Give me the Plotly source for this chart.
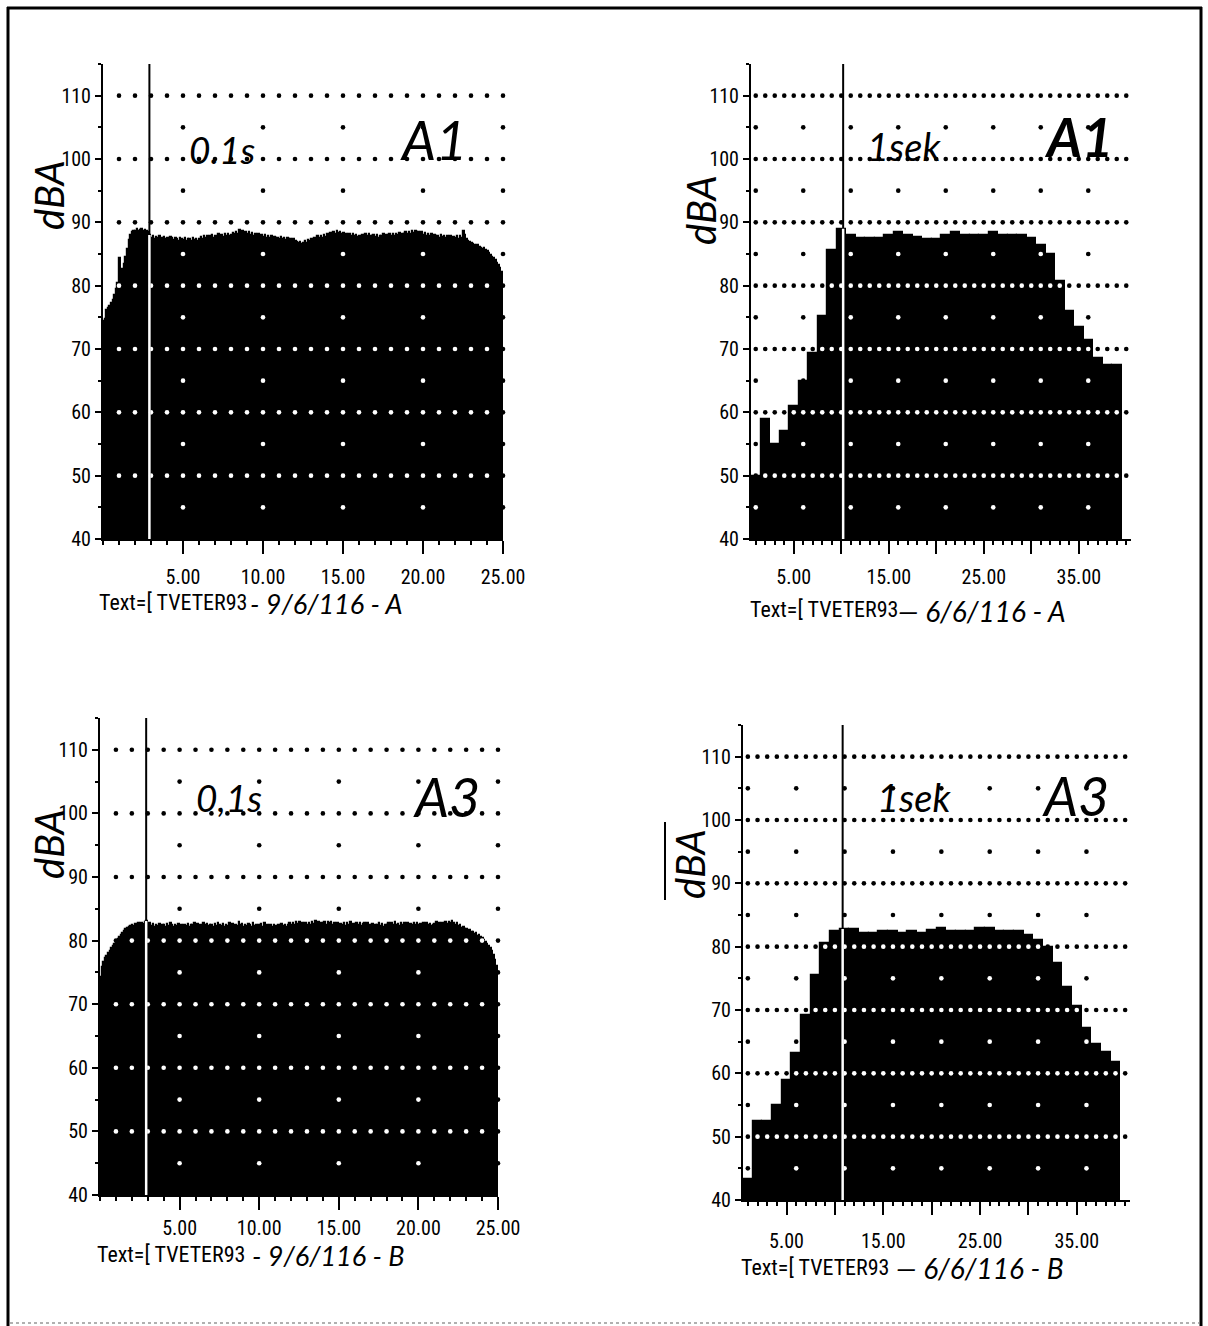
import plotly.graph_objects as go

W, H = 1208, 1326

# ---------------- data (dBA levels read from the printouts) ----------------
# A1, 0.1 s samples, 0.0 .. 25.0 s
a1_fast = [
    74.5, 74.8, 76.2, 76.5, 76.8, 77.2, 77.8, 78.6, 79.5, 80.4,
    84.3, 82.0, 82.6, 83.5, 84.6, 85.8, 87.2, 88.0, 88.5, 88.6,
    88.7, 88.9, 88.6, 88.8, 88.9, 88.7, 88.8, 88.6, 88.5, 88.0,
    87.6, 87.8, 87.4, 87.7, 87.5, 87.8, 87.3, 87.6, 87.7, 87.4,
    87.6, 87.3, 87.7, 87.5, 87.2, 87.6, 87.4, 87.1, 87.5, 87.3,
    87.2, 87.6, 87.0, 87.4, 87.3, 87.1, 87.5, 87.2, 87.4, 87.0,
    87.3, 87.7, 87.4, 87.8, 87.5, 87.9, 87.6, 87.8, 88.0, 87.6,
    87.9, 87.7, 88.1, 87.8, 88.0, 87.7, 88.2, 87.9, 88.1, 87.8,
    88.0, 88.3, 88.1, 88.5, 88.2, 88.8, 88.4, 88.6, 88.3, 88.5,
    88.2, 88.4, 88.0, 88.3, 87.9, 88.2, 87.8, 88.1, 87.9, 88.0,
    87.7, 88.0, 87.6, 87.9, 87.5, 87.8, 87.4, 87.7, 87.5, 87.6,
    87.4, 87.7, 87.3, 87.6, 87.2, 87.5, 87.3, 87.4, 87.1, 87.3,
    87.0, 86.9, 86.7, 86.9, 86.6, 86.8, 87.0, 86.8, 87.2, 87.0,
    87.4, 87.2, 87.6, 87.3, 87.8, 87.5, 87.9, 87.6, 88.0, 87.7,
    88.1, 87.8, 88.3, 88.0, 88.5, 88.2, 88.6, 88.3, 88.4, 88.1,
    88.3, 88.0, 88.2, 87.9, 88.1, 87.8, 88.2, 87.9, 88.0, 87.7,
    87.9, 87.6, 88.0, 87.7, 88.1, 87.8, 88.2, 87.9, 87.8, 88.0,
    87.7, 88.0, 87.6, 87.9, 87.8, 88.1, 87.7, 88.0, 87.9, 88.2,
    87.9, 88.1, 87.8, 88.2, 88.0, 88.3, 87.9, 88.1, 88.2, 88.4,
    88.1, 88.5, 88.2, 88.6, 88.3, 88.7, 88.4, 88.5, 88.2, 88.4,
    88.0, 88.3, 87.9, 88.2, 87.8, 88.1, 87.7, 88.0, 87.8, 87.9,
    87.6, 88.0, 87.7, 87.9, 87.5, 87.8, 87.6, 87.9, 87.4, 87.7,
    87.5, 87.8, 87.4, 87.9, 87.6, 88.7, 88.0, 87.3, 87.1, 86.9,
    86.8, 86.6, 86.5, 86.3, 86.4, 86.1, 86.0, 85.8, 85.9, 85.6,
    85.4, 85.2, 84.9, 84.6, 84.3, 84.0, 83.6, 83.2, 82.8, 82.2,
]

# A1, 1 s samples, seconds 1 .. 39
a1_slow = [
    50.0, 59.0, 55.0, 57.0, 61.0, 65.0, 69.3, 75.2, 85.6, 89.0,
    88.0, 87.5, 87.5, 87.5, 88.0, 88.5, 88.0, 87.7, 87.3, 87.3,
    88.0, 88.5, 88.0, 88.0, 88.0, 88.5, 88.0, 88.0, 88.0, 87.5,
    86.5, 85.0, 80.8, 76.0, 73.4, 71.4, 68.6, 67.5, 67.5,
]

# A3, 0.1 s samples, 0.0 .. 25.0 s
a3_fast = [
    74.3, 75.8, 76.6, 77.2, 77.6, 78.0, 78.4, 78.8, 79.1, 79.4,
    79.8, 80.2, 80.5, 80.9, 81.2, 81.5, 81.8, 82.0, 82.2, 82.3,
    82.4, 82.3, 82.6, 82.4, 82.7, 82.5, 82.8, 82.6, 82.9, 83.1,
    82.4, 82.7, 82.3, 82.6, 82.2, 82.5, 82.3, 82.6, 82.1, 82.4,
    82.5, 82.2, 82.6, 82.3, 82.7, 82.4, 82.2, 82.5, 82.3, 82.6,
    82.2, 82.5, 82.1, 82.4, 82.3, 82.6, 82.2, 82.5, 82.4, 82.7,
    82.3, 82.6, 82.2, 82.5, 82.3, 82.8, 82.4, 82.6, 82.3, 82.5,
    82.4, 82.2, 82.6, 82.3, 82.7, 82.4, 82.3, 82.6, 82.2, 82.5,
    82.3, 82.7, 82.4, 82.6, 82.2, 82.5, 82.3, 82.9, 82.4, 82.6,
    82.2, 82.5, 82.3, 82.6, 82.4, 82.2, 82.7, 82.3, 82.5, 82.1,
    82.4, 82.6, 82.2, 82.8, 82.3, 82.5, 82.1, 82.4, 82.2, 82.5,
    82.3, 82.1, 82.4, 82.2, 82.6, 82.3, 82.5, 82.2, 82.4, 82.7,
    82.4, 82.8, 82.5, 82.9, 82.6, 83.0, 82.5, 82.8, 82.4, 82.7,
    82.5, 82.8, 82.4, 82.9, 82.6, 83.1, 82.7, 82.9, 82.5, 82.8,
    82.6, 82.9, 82.5, 83.0, 82.7, 82.9, 82.4, 82.8, 82.5, 82.7,
    82.3, 82.6, 82.4, 82.8, 82.3, 82.7, 82.5, 82.9, 82.4, 82.6,
    82.5, 82.8, 82.4, 82.7, 82.3, 82.6, 82.8, 82.4, 82.7, 82.5,
    82.3, 82.6, 82.2, 82.5, 82.4, 82.7, 82.3, 82.6, 82.2, 82.5,
    82.4, 82.7, 82.3, 82.8, 82.5, 82.9, 82.4, 82.6, 82.3, 82.7,
    82.5, 82.8, 82.4, 82.7, 82.3, 82.6, 82.4, 82.8, 82.5, 82.7,
    82.4, 82.6, 82.3, 82.7, 82.5, 82.8, 82.4, 82.6, 82.3, 82.5,
    82.6, 82.9, 82.5, 82.8, 82.4, 82.7, 82.5, 82.9, 82.6, 83.0,
    82.7, 83.1, 82.8, 82.5, 82.7, 82.3, 82.4, 82.0, 82.2, 81.8,
    81.9, 81.5, 81.7, 81.3, 81.4, 81.0, 81.2, 80.8, 80.9, 80.5,
    80.4, 80.1, 79.8, 79.5, 79.2, 78.8, 78.4, 77.8, 77.0, 76.0,
]

# A3, 1 s samples, seconds 1 .. 39
a3_slow = [
    43.3, 52.5, 52.5, 55.0, 59.0, 63.2, 69.2, 75.5, 80.6, 82.4,
    82.8, 82.8, 82.2, 82.2, 82.5, 82.4, 82.1, 82.4, 82.1, 82.6,
    82.9, 82.4, 82.4, 82.5, 82.9, 82.9, 82.5, 82.4, 82.4, 81.8,
    81.0, 80.0, 77.5, 73.7, 70.6, 67.2, 64.7, 63.3, 61.8,
]

y_ticks = [40, 50, 60, 70, 80, 90, 100, 110]
y_labels = ["40", "50", "60", "70", "80", "90", "100", "110"]
fast_ticks = [5, 10, 15, 20, 25]
fast_labels = ["5.00", "10.00", "15.00", "20.00", "25.00"]
slow_ticks = [5, 10, 15, 20, 25, 30, 35]
slow_labels = ["5.00", "", "15.00", "", "25.00", "", "35.00"]

cursor_a1_fast = 2.9
cursor_a1_slow = 10.2
cursor_a3_fast = 2.9
cursor_a3_slow = 10.8

# ---------------- layout helpers ----------------
PRINT = "Roboto Condensed, Liberation Sans Narrow, DejaVu Sans Condensed, Roboto, sans-serif"
HAND = "Lato, Noto Sans, Open Sans, sans-serif"


def fx(px):
    return px / W


def fy(py):
    return 1 - py / H


panels = [
    dict(vals=a1_fast, x0=0.05, dx=0.1, xr=[0, 25], xpx=(103, 503), ypx=(539, 64),
         cursor=cursor_a1_fast, tv=fast_ticks, tt=fast_labels, standoff=6,
         major_cols=list(range(1, 26)), minor_cols=[5, 10, 15, 20, 25]),
    dict(vals=a1_slow, x0=1, dx=1, xr=[0.5, 40.5], xpx=(751, 1131), ypx=(539, 64),
         cursor=cursor_a1_slow, tv=slow_ticks, tt=slow_labels, standoff=6,
         major_cols=list(range(1, 41)), minor_cols=[1, 6, 11, 16, 21, 26, 31, 36]),
    dict(vals=a3_fast, x0=0.05, dx=0.1, xr=[0, 25], xpx=(100, 498), ypx=(1195, 718),
         cursor=cursor_a3_fast, tv=fast_ticks, tt=fast_labels, standoff=1,
         major_cols=list(range(1, 26)), minor_cols=[5, 10, 15, 20, 25]),
    dict(vals=a3_slow, x0=1, dx=1, xr=[0.5, 40.5], xpx=(743, 1130), ypx=(1200, 725),
         cursor=cursor_a3_slow, tv=slow_ticks, tt=slow_labels, standoff=9,
         major_cols=list(range(1, 41)), minor_cols=[1, 6, 11, 16, 21, 26, 31, 36]),
]


def level_at(p, x):
    i = int((x - (p["x0"] - p["dx"] / 2)) / p["dx"] + 1e-6)
    if 0 <= i < len(p["vals"]):
        return p["vals"][i]
    return None


fig = go.Figure()
shapes = []
layout_axes = {}

for k, p in enumerate(panels, start=1):
    xa = "x" if k == 1 else f"x{k}"
    ya = "y" if k == 1 else f"y{k}"
    fig.add_trace(go.Bar(
        y=p["vals"], x0=p["x0"], dx=p["dx"], width=p["dx"],
        marker=dict(color="black", line=dict(width=1.2, color="black")),
        xaxis=xa, yaxis=ya, showlegend=False, hoverinfo="skip",
    ))
    # dotted grid: black on paper, white where it falls inside the black fill
    gx, gy, gc = [], [], []
    for row in [50, 60, 70, 80, 90, 100, 110]:
        for c in p["major_cols"]:
            gx.append(c)
            gy.append(row)
    for row in [45, 55, 65, 75, 85, 95, 105]:
        for c in p["minor_cols"]:
            gx.append(c)
            gy.append(row)
    for x, y in zip(gx, gy):
        lv = level_at(p, x)
        gc.append("white" if (lv is not None and y < lv) else "black")
    fig.add_trace(go.Scatter(
        x=gx, y=gy, mode="markers",
        marker=dict(size=4.6, color=gc, line=dict(width=0)),
        xaxis=xa, yaxis=ya, showlegend=False, hoverinfo="skip", cliponaxis=False,
    ))
    # cursor line: black above the fill, white inside it
    top_fill = level_at(p, p["cursor"])
    shapes.append(dict(type="line", xref=xa, yref=ya, x0=p["cursor"], x1=p["cursor"],
                       y0=40, y1=115, line=dict(color="black", width=2)))
    shapes.append(dict(type="line", xref=xa, yref=ya, x0=p["cursor"], x1=p["cursor"],
                       y0=40, y1=top_fill, line=dict(color="white", width=2.5)))

    xkey = "xaxis" if k == 1 else f"xaxis{k}"
    ykey = "yaxis" if k == 1 else f"yaxis{k}"
    layout_axes[xkey] = dict(
        domain=[fx(p["xpx"][0]), fx(p["xpx"][1])], range=p["xr"], anchor=ya,
        showline=True, linecolor="black", linewidth=2, showgrid=False, zeroline=False,
        tickmode="array", tickvals=p["tv"], ticktext=p["tt"],
        ticks="outside", ticklen=13, tickwidth=2, tickcolor="black",
        ticklabelstandoff=p["standoff"], automargin=False,
        minor=dict(tickmode="linear", tick0=0, dtick=1, ticks="outside", ticklen=4,
                   tickwidth=2, tickcolor="black", showgrid=False),
        tickfont=dict(family=PRINT, size=20, color="black"),
        fixedrange=True,
    )
    layout_axes[ykey] = dict(
        domain=[fy(p["ypx"][0]), fy(p["ypx"][1])], range=[40, 115], anchor=xa,
        showline=True, linecolor="black", linewidth=2, showgrid=False, zeroline=False,
        tickmode="array", tickvals=y_ticks, ticktext=y_labels,
        ticks="outside", ticklen=6, tickwidth=2, tickcolor="black", automargin=False,
        minor=dict(tickmode="linear", tick0=0, dtick=5, ticks="outside", ticklen=3,
                   tickwidth=2, tickcolor="black", showgrid=False),
        tickfont=dict(family=PRINT, size=20, color="black"),
        fixedrange=True,
    )

# page frame
shapes += [
    dict(type="line", xref="paper", yref="paper", x0=fx(8), x1=fx(8), y0=fy(7), y1=fy(1326),
         line=dict(color="black", width=3)),
    dict(type="line", xref="paper", yref="paper", x0=fx(7), x1=fx(1202), y0=fy(8), y1=fy(8),
         line=dict(color="black", width=3)),
    dict(type="line", xref="paper", yref="paper", x0=fx(1201), x1=fx(1201), y0=fy(7), y1=fy(1326),
         line=dict(color="black", width=3)),
    dict(type="line", xref="paper", yref="paper", x0=fx(10), x1=fx(1199), y0=fy(1323), y1=fy(1323),
         line=dict(color="#b0b0b0", width=2, dash="dot")),
    # bar over the rotated dBA in the lower right panel
    dict(type="line", xref="paper", yref="paper", x0=fx(665), x1=fx(665), y0=fy(822), y1=fy(900),
         line=dict(color="black", width=2)),
]

ann = []


def text(x, y, s, family, size, xanchor="center", angle=0, style="normal", weight="normal"):
    ann.append(dict(x=fx(x), y=fy(y), xref="paper", yref="paper", text=s, showarrow=False,
                    xanchor=xanchor, yanchor="middle", textangle=angle,
                    font=dict(family=family, size=size, color="black", style=style, weight=weight)))


# printed captions
text(97, 603, "Text=[ TVETER93", PRINT, 22, xanchor="left")
text(748, 610, "Text=[ TVETER93", PRINT, 22, xanchor="left")
text(95, 1254, "Text=[ TVETER93", PRINT, 22, xanchor="left")
text(739, 1267, "Text=[ TVETER93", PRINT, 22, xanchor="left")

# handwritten notes
text(248, 604, "- 9/6/116 - A", HAND, 27, xanchor="left", style="italic")
text(896, 611, "— 6/6/116 - A", HAND, 28, xanchor="left", style="italic")
text(250, 1255, "- 9/6/116 - B", HAND, 27, xanchor="left", style="italic")
text(894, 1268, "— 6/6/116 - B", HAND, 28, xanchor="left", style="italic")

text(222, 149, "0.1s", HAND, 37, style="italic")
text(433, 140, "A1", HAND, 54, style="italic")
text(904, 146, "1sek", HAND, 38, style="italic")
text(1078, 137, "A1", HAND, 54, style="italic", weight="bold")
text(229, 797, "0,1s", HAND, 37, style="italic")
text(447, 796, "A3", HAND, 54, style="italic")
text(914, 797, "1sek", HAND, 38, style="italic")
text(1075, 795, "A3", HAND, 54, style="italic")

text(49, 195, "dBA", HAND, 40, angle=-90, style="italic")
text(701, 210, "dBA", HAND, 40, angle=-90, style="italic")
text(49, 844, "dBA", HAND, 40, angle=-90, style="italic")
text(690, 864, "dBA", HAND, 40, angle=-90, style="italic")

fig.update_layout(
    width=W, height=H, autosize=False,
    margin=dict(l=0, r=0, t=0, b=0, pad=0, autoexpand=False),
    paper_bgcolor="white", plot_bgcolor="rgba(0,0,0,0)",
    bargap=0, barmode="overlay",
    showlegend=False,
    shapes=shapes, annotations=ann,
    **layout_axes,
)

fig.write_html("out.html", config=dict(displayModeBar=False, responsive=False))
